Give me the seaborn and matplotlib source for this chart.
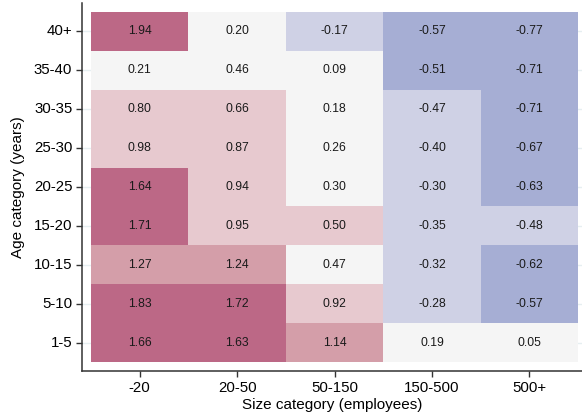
import numpy as np
import pandas as pd
import matplotlib
matplotlib.use("Agg")
import matplotlib.pyplot as plt
from matplotlib.colors import ListedColormap, BoundaryNorm
import seaborn as sns

age_categories = ["40+", "35-40", "30-35", "25-30", "20-25", "15-20", "10-15", "5-10", "1-5"]
size_categories = ["-20", "20-50", "50-150", "150-500", "500+"]

row_40p = [1.94, 0.20, -0.17, -0.57, -0.77]
row_35_40 = [0.21, 0.46, 0.09, -0.51, -0.71]
row_30_35 = [0.80, 0.66, 0.18, -0.47, -0.71]
row_25_30 = [0.98, 0.87, 0.26, -0.40, -0.67]
row_20_25 = [1.64, 0.94, 0.30, -0.30, -0.63]
row_15_20 = [1.71, 0.95, 0.50, -0.35, -0.48]
row_10_15 = [1.27, 1.24, 0.47, -0.32, -0.62]
row_5_10 = [1.83, 1.72, 0.92, -0.28, -0.57]
row_1_5 = [1.66, 1.63, 1.14, 0.19, 0.05]

bin_edges = [-1.0, -0.5, 0.0, 0.5, 1.0, 1.5, 2.0]
bin_colors = ["#a6aed4", "#cfd1e5", "#f5f5f5", "#e7c9cf", "#d49ea9", "#bc6886"]

data = pd.DataFrame(
    [row_40p, row_35_40, row_30_35, row_25_30, row_20_25,
     row_15_20, row_10_15, row_5_10, row_1_5],
    index=age_categories, columns=size_categories)

sns.set_style("white")
plt.rcParams["font.family"] = ["Liberation Sans", "DejaVu Sans"]

fig = plt.figure(figsize=(5.82, 4.17), dpi=100)
ax = fig.add_axes([82/582, 46/417, 500/582, 368/417])

cmap = ListedColormap(bin_colors)
norm = BoundaryNorm(bin_edges, cmap.N)

sns.heatmap(data, ax=ax, cmap=cmap, norm=norm, annot=True, fmt=".2f",
            cbar=False, annot_kws={"color": "#1a1a1a", "fontsize": 8.7})

ax.set_xlim(-0.092, 5.04)
ax.set_ylim(9.23, -0.23)

for side in ["left", "bottom"]:
    ax.spines[side].set_visible(True)
    ax.spines[side].set_color("#333333")
    ax.spines[side].set_linewidth(1.1)
for side in ["top", "right"]:
    ax.spines[side].set_visible(False)

ax.set_axisbelow(True)
ax.yaxis.grid(True, color="#e6eff1", linewidth=1.0)
ax.xaxis.grid(False)

ax.tick_params(axis="both", which="major", length=4.5, width=1.0, color="#333333",
               labelsize=10.8, labelcolor="black", direction="out", pad=2.5)
ax.tick_params(axis="y", rotation=0)
ax.tick_params(axis="x", rotation=0)
ax.tick_params(left=True, bottom=True)

ax.set_xlabel("Size category (employees)", fontsize=11, color="black", labelpad=2)
ax.set_ylabel("Age category (years)", fontsize=11, color="black", labelpad=6)

fig.savefig("out.png", dpi=100, facecolor="white")
